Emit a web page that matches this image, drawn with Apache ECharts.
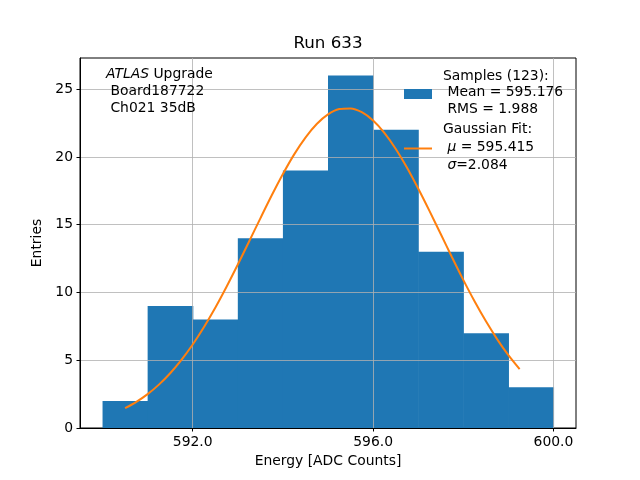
<!DOCTYPE html>
<html>
<head>
<meta charset="utf-8">
<script src="https://cdn.jsdelivr.net/npm/echarts@6/dist/echarts.min.js"></script>
<style>html,body{margin:0;padding:0;background:#fff}#c{width:640px;height:480px}</style>
</head>
<body>
<div id="c"></div>
<script>
// Histogram bins (left edges, right edges) and counts
var binLeft  = [590, 591, 592, 593, 594, 595, 596, 597, 598, 599];
var binRight = [591, 592, 593, 594, 595, 596, 597, 598, 599, 600];
var counts   = [2, 9, 8, 14, 19, 26, 22, 13, 7, 3];

// Gaussian fit curve
var fitX = [590.5,590.75,591,591.25,591.5,591.75,592,592.25,592.5,592.75,593,593.25,593.5,593.75,594,594.25,594.5,594.75,595,595.25,595.5,595.75,596,596.25,596.5,596.75,597,597.25,597.5,597.75,598,598.25,598.5,598.75,599,599.25];
var fitY = [1.46,1.93,2.50,3.20,4.04,5.03,6.16,7.45,8.87,10.42,12.06,13.76,15.47,17.15,18.74,20.19,21.43,22.43,23.14,23.53,23.58,23.30,22.69,21.78,20.61,19.22,17.67,16.02,14.31,12.60,10.93,9.35,7.89,6.56,5.37,4.34];

var xTicks = [592, 596, 600];
var yTicks = [0, 5, 10, 15, 20, 25];

var FONT = '"DejaVu Sans", sans-serif';
var FS = 13.9;

var histData = binLeft.map(function (l, i) { return [l, binRight[i], counts[i]]; });
var fitData = fitX.map(function (x, i) { return [x, fitY[i]]; });

var chart = echarts.init(document.getElementById('c'), null, {renderer: 'canvas'});

function txt(x, y, text, extra) {
  var st = {
    text: text, x: x, y: y, fill: '#000', font: FS + 'px ' + FONT,
    textVerticalAlign: 'middle', textAlign: 'left',
    rich: {
      i: {fontStyle: 'italic', fontSize: FS, fontFamily: FONT, fill: '#000'},
      n: {fontSize: FS, fontFamily: FONT, fill: '#000'}
    }
  };
  if (extra) for (var k in extra) st[k] = extra[k];
  return {type: 'text', z: 100, style: st};
}

var option = {
  animation: false,
  backgroundColor: '#fff',
  grid: {left: 80, right: 64, top: 58, bottom: 52, show: true, borderColor: '#000', borderWidth: 1, backgroundColor: 'transparent'},
  xAxis: {
    type: 'value', min: 589.5, max: 600.5, z: 2,
    name: 'Energy [ADC Counts]', nameLocation: 'middle', nameGap: 26,
    nameTextStyle: {fontFamily: FONT, fontSize: FS, color: '#000'},
    axisLine: {show: true, lineStyle: {color: '#000', width: 1}},
    axisTick: {show: true, inside: false, length: 3.5, lineStyle: {color: '#000'}, customValues: xTicks},
    axisLabel: {margin: 7, fontFamily: FONT, fontSize: FS, color: '#000', customValues: xTicks,
      formatter: function (v) { return v.toFixed(1); }},
    splitLine: {show: true, lineStyle: {color: '#b0b0b0', width: 0.8}}
  },
  yAxis: {
    type: 'value', min: 0, max: 27.3, z: 2,
    name: 'Entries', nameLocation: 'middle', nameGap: 30,
    nameTextStyle: {fontFamily: FONT, fontSize: FS, color: '#000'},
    axisLine: {show: true, lineStyle: {color: '#000', width: 1}},
    axisTick: {show: true, inside: false, length: 3.5, lineStyle: {color: '#000'}, customValues: yTicks},
    axisLabel: {margin: 7, fontFamily: FONT, fontSize: FS, color: '#000', customValues: yTicks},
    splitLine: {show: true, lineStyle: {color: '#b0b0b0', width: 0.8}}
  },
  series: [
    {
      type: 'custom', z: 1,
      data: histData,
      encode: {x: [0, 1], y: 2},
      renderItem: function (params, api) {
        var p0 = api.coord([api.value(0), api.value(2)]);
        var p1 = api.coord([api.value(1), 0]);
        return {type: 'rect', shape: {x: p0[0], y: p0[1], width: p1[0] - p0[0] + 0.6, height: p1[1] - p0[1]},
          style: {fill: '#1f77b4', stroke: null}};
      }
    },
    {
      type: 'line', z: 3, data: fitData, showSymbol: false, symbol: 'none', smooth: 0.3,
      lineStyle: {color: '#ff7f0e', width: 2}
    }
  ],
  graphic: [
    txt(328, 43.5, 'Run 633', {textAlign: 'center', font: '16.7px ' + FONT}),
    txt(106, 74, '{i|ATLAS}{n| Upgrade}'),
    txt(106, 91, ' Board187722'),
    txt(106, 108, ' Ch021 35dB'),
    {type: 'rect', z: 100, shape: {x: 404, y: 89, width: 28, height: 10}, style: {fill: '#1f77b4'}},
    txt(443, 76, 'Samples (123):'),
    txt(443, 92.5, ' Mean = 595.176'),
    txt(443, 109, ' RMS = 1.988'),
    {type: 'line', z: 100, shape: {x1: 404, y1: 148.5, x2: 432, y2: 148.5}, style: {stroke: '#ff7f0e', lineWidth: 2}},
    txt(443, 129, 'Gaussian Fit:'),
    txt(443, 147.5, '{n| }{i|μ}{n| = 595.415}'),
    txt(443, 165, '{n| }{i|σ}{n|=2.084}')
  ]
};
chart.setOption(option);
</script>
</body>
</html>
